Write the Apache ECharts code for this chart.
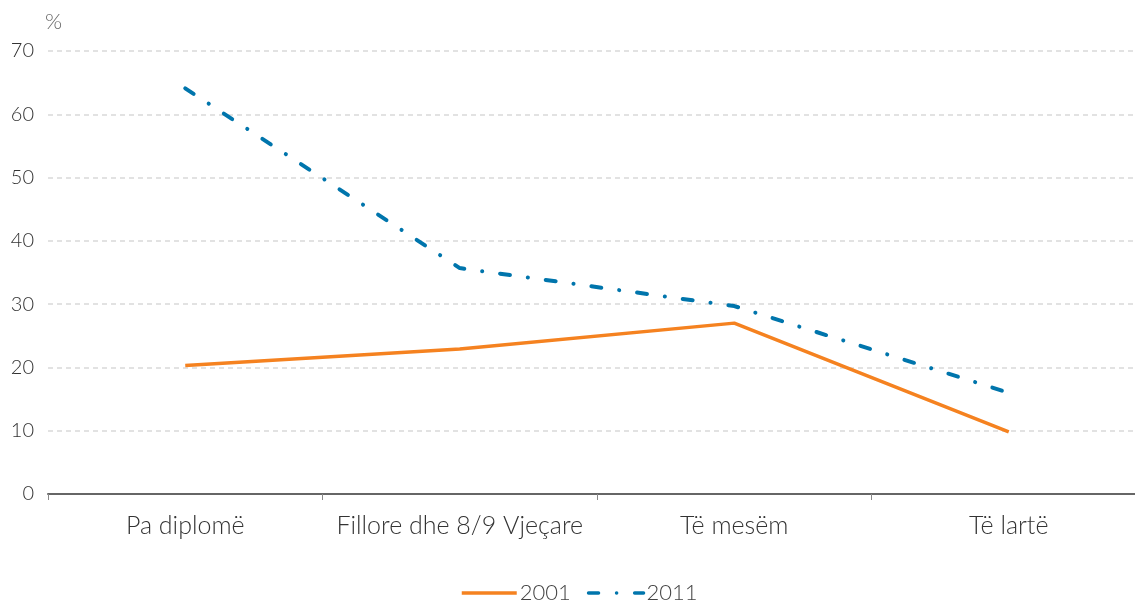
<!DOCTYPE html>
<html><head><meta charset="utf-8">
<script src="https://cdn.jsdelivr.net/npm/echarts@6/dist/echarts.min.js"></script>
<style>html,body{margin:0;padding:0;background:#fff}#c{width:1135px;height:602px}</style>
</head><body><div id="c"></div>
<script>
const categories = ['Pa diplomë', 'Fillore dhe 8/9 Vjeçare', 'Të mesëm', 'Të lartë'];
const series2001 = [20.3, 22.9, 27.0, 9.8];
const series2011 = [64.1, 35.7, 29.7, 16.0];
const seriesNames = ['2001', '2011'];
const yTicks = [0, 10, 20, 30, 40, 50, 60, 70];

const FONT = 'Lato';
const chart = echarts.init(document.getElementById('c'));
chart.setOption({
  animation: false,
  grid: { left: 48, right: -11, top: 51, bottom: 108, outerBoundsMode: 'none', containLabel: false },
  legend: {
    top: 577, left: 455,
    itemWidth: 55, itemHeight: 14, itemGap: 16,
    itemStyle: { opacity: 0 },
    lineStyle: { width: 3.5 },
    textStyle: { fontFamily: FONT, fontSize: 22, color: '#444', fontWeight: 300, padding: [0, 0, 0, -2] },
    data: seriesNames
  },
  xAxis: {
    type: 'category', data: categories, boundaryGap: true,
    axisLine: { lineStyle: { color: '#666', width: 2 } },
    axisTick: { show: true, length: 6, lineStyle: { color: '#888', width: 1 } },
    axisLabel: { interval: 0, fontFamily: FONT, fontSize: 25, color: '#333', margin: 19, fontWeight: 300 }
  },
  yAxis: {
    type: 'value', min: yTicks[0], max: yTicks[yTicks.length - 1], interval: 10,
    name: '%', nameLocation: 'end', nameGap: 18,
    nameTextStyle: { fontFamily: FONT, fontSize: 22, color: '#666', align: 'left', padding: [0, 0, 0, -3], fontWeight: 300 },
    axisLine: { show: false }, axisTick: { show: false },
    axisLabel: { fontFamily: FONT, fontSize: 20, color: '#333', margin: 14, fontWeight: 300 },
    splitLine: { lineStyle: { color: '#d9d9d9', type: [5, 4], width: 1.5 } }
  },
  series: [
    {
      name: seriesNames[0], type: 'line', data: series2001, symbol: 'none',
      lineStyle: { color: '#F58220', width: 3.5 }, itemStyle: { color: '#F58220' }
    },
    {
      name: seriesNames[1], type: 'line', data: series2011, symbol: 'none',
      lineStyle: { color: '#0075AC', width: 4, type: [10, 18, 0.1, 18], cap: 'round' },
      itemStyle: { color: '#0075AC' }
    }
  ]
});
</script></body></html>
